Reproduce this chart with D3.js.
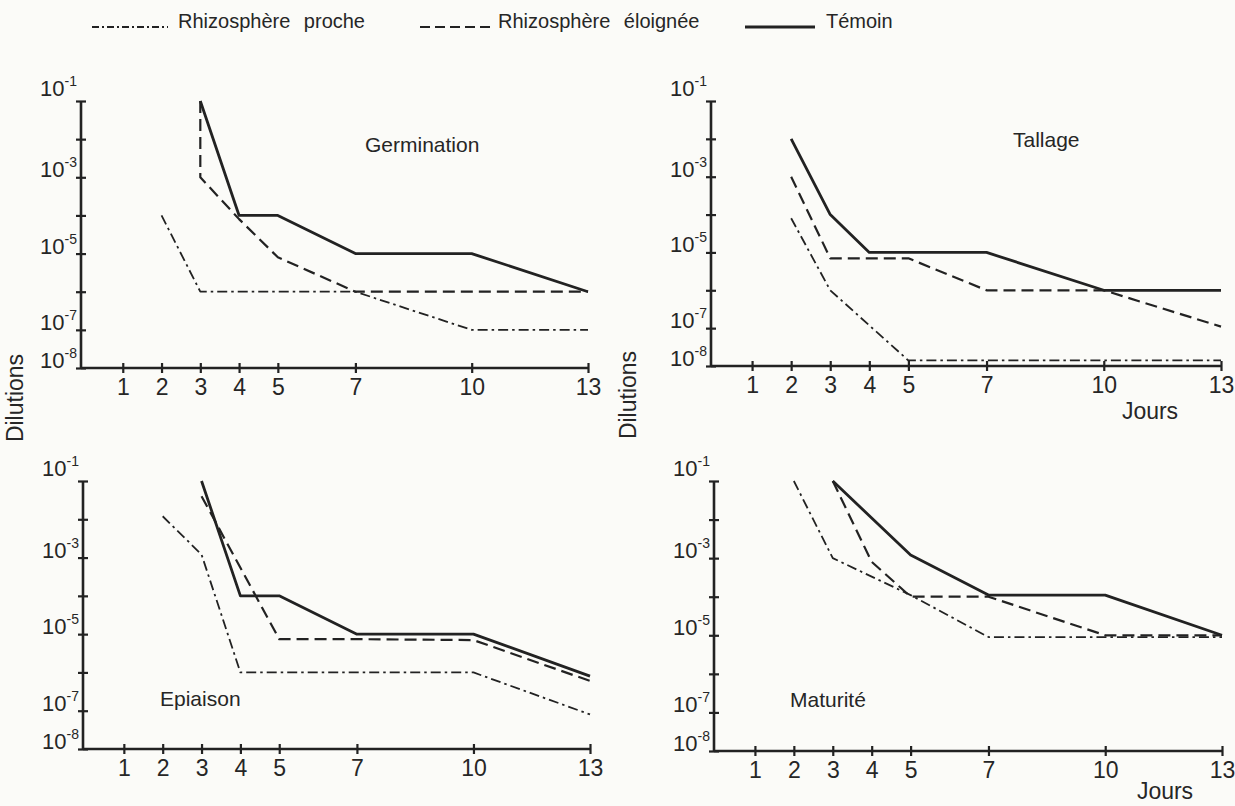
<!DOCTYPE html>
<html>
<head>
<meta charset="utf-8">
<script src="https://cdn.jsdelivr.net/npm/d3@7"></script>
<style>
  html, body { margin: 0; padding: 0; background: #fbfbf8; }
  svg text { font-family: "Liberation Sans", Arial, sans-serif; fill: #262626; }
</style>
</head>
<body>
<svg id="chart"></svg>
<script>
// x tick labels (days) and y ticks (dilutions)
var days = [1, 2, 3, 4, 5, 7, 10, 13];
var yTicks = [1e-1, 1e-2, 1e-3, 1e-4, 1e-5, 1e-6, 1e-7, 1e-8];
var yLabelled = [-1, -3, -5, -7, -8];

var seriesNames = ['Rhizosphère proche', 'Rhizosphère éloignée', 'Témoin'];
var panelNames = ['Germination', 'Tallage', 'Epiaison', 'Maturité'];

// Germination
var germProcheDays = [2, 3, 7, 10, 13];
var germProcheVals = [1e-4, 1e-6, 1e-6, 1e-7, 1e-7];
var germEloigneeDays = [3, 3, 4, 5, 7, 13];
var germEloigneeVals = [1e-1, 1e-3, 8e-5, 8e-6, 1e-6, 1e-6];
var germTemoinDays = [3, 4, 5, 7, 10, 13];
var germTemoinVals = [1e-1, 1e-4, 1e-4, 1e-5, 1e-5, 1e-6];

// Tallage
var tallProcheDays = [2, 3, 5, 13];
var tallProcheVals = [8e-5, 1e-6, 1.4e-8, 1.4e-8];
var tallEloigneeDays = [2, 3, 5, 7, 10, 13];
var tallEloigneeVals = [1e-3, 7e-6, 7e-6, 1e-6, 1e-6, 1.1e-7];
var tallTemoinDays = [2, 3, 4, 7, 10, 13];
var tallTemoinVals = [1e-2, 1e-4, 1e-5, 1e-5, 1e-6, 1e-6];

// Epiaison
var epiProcheDays = [2, 3, 4, 10, 13];
var epiProcheVals = [1.2e-2, 1.2e-3, 1e-6, 1e-6, 8e-8];
var epiEloigneeDays = [3, 5, 7, 10, 13];
var epiEloigneeVals = [4e-2, 7.4e-6, 7.4e-6, 7e-6, 6e-7];
var epiTemoinDays = [3, 4, 5, 7, 10, 13];
var epiTemoinVals = [1e-1, 1e-4, 1e-4, 1e-5, 1e-5, 8e-7];

// Maturite
var matProcheDays = [2, 3, 5, 7, 13];
var matProcheVals = [1e-1, 1e-3, 1.1e-4, 9e-6, 9e-6];
var matEloigneeDays = [3, 4, 5, 7, 10, 13];
var matEloigneeVals = [1e-1, 8e-4, 1e-4, 1e-4, 1e-5, 1e-5];
var matTemoinDays = [3, 5, 7, 10, 13];
var matTemoinVals = [1e-1, 1.2e-3, 1.1e-4, 1.1e-4, 1e-5];

var zip = (ds, vs) => ds.map((d, i) => ({ day: d, val: vs[i] }));

var panelSeries = [
  [zip(germProcheDays, germProcheVals), zip(germEloigneeDays, germEloigneeVals), zip(germTemoinDays, germTemoinVals)],
  [zip(tallProcheDays, tallProcheVals), zip(tallEloigneeDays, tallEloigneeVals), zip(tallTemoinDays, tallTemoinVals)],
  [zip(epiProcheDays, epiProcheVals), zip(epiEloigneeDays, epiEloigneeVals), zip(epiTemoinDays, epiTemoinVals)],
  [zip(matProcheDays, matProcheVals), zip(matEloigneeDays, matEloigneeVals), zip(matTemoinDays, matTemoinVals)]
];

var ink = '#222';
var styles = [
  { width: 1.8, dash: '10,4,2.5,4' },
  { width: 2.2, dash: '12,6' },
  { width: 2.8, dash: null }
];

// layout of each panel
var layout = [
  { axisX: 81, x0: 84, x13: 588, top: 101, bottom: 368, title: [365, 152] },
  { axisX: 711, x0: 713, x13: 1221, top: 101, bottom: 366, title: [1013, 147] },
  { axisX: 83, x0: 85, x13: 590, top: 481, bottom: 749, title: [160, 706] },
  { axisX: 714, x0: 716, x13: 1222, top: 481, bottom: 751, title: [790, 707] }
];

var svg = d3.select('#chart')
  .attr('width', 1235)
  .attr('height', 806);

layout.forEach((p, pi) => {
  var x = d3.scaleLinear().domain([0, 13]).range([p.x0, p.x13]);
  var y = d3.scaleLog().domain([1e-8, 1e-1]).range([p.bottom, p.top]);
  var g = svg.append('g');

  // x axis
  var xAxis = d3.axisBottom(x).tickValues(days).tickSize(5).tickPadding(6);
  var gx = g.append('g')
    .attr('transform', `translate(0, ${ p.bottom })`)
    .call(xAxis);
  gx.select('.domain').remove();
  gx.selectAll('.tick line').attr('y1', -5).attr('stroke', ink).attr('stroke-width', 2.2);
  gx.selectAll('.tick text')
    .attr('font-size', 23)
    .attr('font-family', '"Liberation Sans", Arial, sans-serif')
    .attr('fill', ink);
  g.append('line')
    .attr('x1', p.axisX).attr('x2', x(13))
    .attr('y1', p.bottom).attr('y2', p.bottom)
    .attr('stroke', ink).attr('stroke-width', 2.6);

  // y axis
  var yAxis = d3.axisLeft(y).tickValues(yTicks).tickSize(5).tickFormat('');
  var gy = g.append('g')
    .attr('transform', `translate(${ p.axisX }, 0)`)
    .call(yAxis);
  gy.select('.domain').remove();
  gy.selectAll('.tick line').attr('x1', 5).attr('stroke', ink).attr('stroke-width', 2.2);
  g.append('line')
    .attr('x1', p.axisX).attr('x2', p.axisX)
    .attr('y1', y(1e-1)).attr('y2', p.bottom)
    .attr('stroke', ink).attr('stroke-width', 2.6);

  yLabelled.forEach(e => {
    var t = g.append('text')
      .attr('x', p.axisX - 4)
      .attr('y', y(Math.pow(10, e)) - (e === -1 ? 5 : 0))
      .attr('text-anchor', 'end')
      .attr('font-size', 22);
    t.append('tspan').text('10');
    t.append('tspan').attr('font-size', 14).attr('dy', -10).text(String(e));
  });

  // curves
  var line = d3.line().x(d => x(d.day)).y(d => y(d.val));
  panelSeries[pi].forEach((s, si) => {
    g.append('path')
      .datum(s)
      .attr('d', line)
      .attr('fill', 'none')
      .attr('stroke', ink)
      .attr('stroke-width', styles[si].width)
      .attr('stroke-linejoin', 'round')
      .attr('stroke-dasharray', styles[si].dash);
  });

  g.append('text')
    .attr('x', p.title[0]).attr('y', p.title[1])
    .attr('font-size', 21)
    .text(panelNames[pi]);
});

// axis titles
[[15, 398], [628, 395]].forEach(c => {
  svg.append('text')
    .attr('transform', `translate(${ c[0] }, ${ c[1] }) rotate(-90)`)
    .attr('text-anchor', 'middle')
    .attr('dy', '0.35em')
    .attr('font-size', 23)
    .text('Dilutions');
});
[[1150, 419], [1165, 799]].forEach(c => {
  svg.append('text')
    .attr('x', c[0]).attr('y', c[1])
    .attr('text-anchor', 'middle')
    .attr('font-size', 23)
    .text('Jours');
});

// legend
var legendPos = [[92, 168, 178], [420, 490, 498], [745, 815, 826]];
seriesNames.forEach((name, i) => {
  var lp = legendPos[i];
  svg.append('line')
    .attr('x1', lp[0]).attr('x2', lp[1])
    .attr('y1', 27).attr('y2', 27)
    .attr('stroke', ink)
    .attr('stroke-width', styles[i].width)
    .attr('stroke-dasharray', i === 0 ? '7,3,2,3' : (i === 1 ? '10,5' : null));
  svg.append('text')
    .attr('x', lp[2]).attr('y', 28)
    .attr('font-size', 20)
    .attr('word-spacing', 8)
    .text(name);
});
</script>
</body>
</html>
